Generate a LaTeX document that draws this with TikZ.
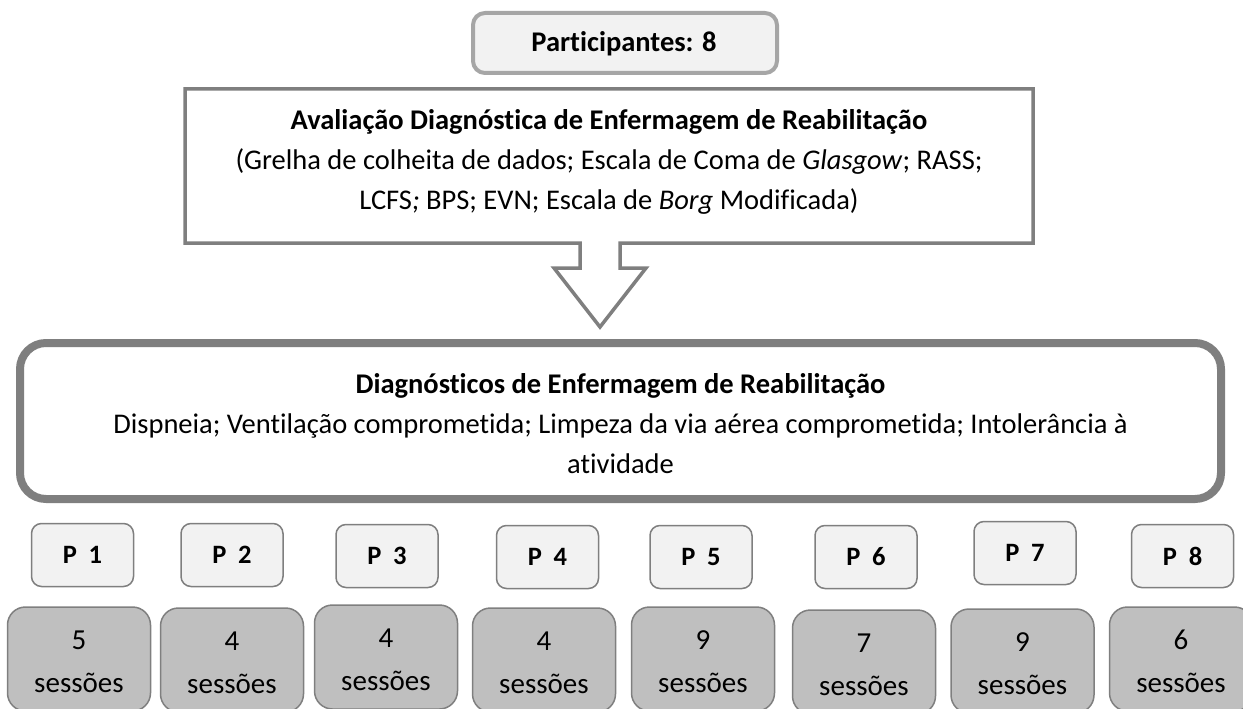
\documentclass[tikz,border=0pt]{standalone}
\usepackage{fontspec}
\setmainfont{Carlito}[Ligatures=NoCommon]
\newfontfamily\pfont[LetterSpace=22,Ligatures=NoCommon]{Carlito}
\definecolor{edgegray}{HTML}{7F7F7F}
\definecolor{partedge}{HTML}{A6A6A6}
\definecolor{lightfill}{HTML}{F2F2F2}
\definecolor{sessfill}{HTML}{BFBFBF}
\begin{document}
\begin{tikzpicture}[x=1pt,y=-1pt,
  txt/.style={font=\fontsize{28.5}{40}\selectfont, align=center, inner sep=0pt},
  partbox/.style={draw=partedge, fill=lightfill, line width=4pt, rounded corners=12pt,
    minimum width=304pt, minimum height=60pt, inner sep=0pt},
  diagbox/.style={draw=edgegray, fill=white, line width=8pt, rounded corners=26pt,
    minimum width=1201pt, minimum height=156pt, inner sep=0pt},
  calloutline/.style={draw=edgegray, fill=white, line width=3.5pt, line join=miter},
  pbox/.style={draw=edgegray, fill=lightfill, line width=1.5pt, rounded corners=10pt,
    minimum width=102pt, minimum height=63pt, inner sep=0pt,
    font=\pfont\bfseries\fontsize{26.5}{30}\selectfont},
  sbox/.style={draw=edgegray, fill=sessfill, line width=1.5pt, rounded corners=18pt,
    minimum width=143pt, minimum height=104pt, inner sep=0pt},
  stxt/.style={font=\fontsize{29}{40}\selectfont, inner sep=0pt, anchor=base}
]
\useasboundingbox (0,0) rectangle (1243,709);

% top box
\node[partbox] (part) at (625,43) {};
\node[font=\fontsize{28.5}{34}\selectfont\bfseries, inner sep=0pt] (parttxt) at (624,44) {Participantes: 8};

% callout with down arrow
\coordinate (c1) at (185,89);
\coordinate (c2) at (1033,89);
\coordinate (c3) at (1033,243);
\coordinate (c4) at (620,243);
\coordinate (c5) at (620,268);
\coordinate (c6) at (646,268);
\coordinate (tip) at (600,327);
\coordinate (c8) at (554,268);
\coordinate (c9) at (580,268);
\coordinate (c10) at (580,243);
\coordinate (c11) at (185,243);
\draw[calloutline] (c1) -- (c2) -- (c3) -- (c4) -- (c5) -- (c6) -- (tip) -- (c8) -- (c9) -- (c10) -- (c11) -- cycle;
\node[txt] (aval) at (609,162) {\textbf{Avaliação Diagnóstica de Enfermagem de Reabilitação}\\
(Grelha de colheita de dados; Escala de Coma de \textit{Glasgow}; RASS;\\
LCFS\textit{;} BPS; EVN; Escala de \textit{Borg} Modificada)};

% diagnoses box
\node[diagbox] (diag) at (620.5,421) {};
\node[txt] (diagtxt) at (620.5,424) {\textbf{Diagnósticos de Enfermagem de Reabilitação}\\
Dispneia; Ventilação comprometida; Limpeza da via aérea comprometida; Intolerância à\\
atividade};

% participant boxes
\node[pbox] (p1) at (82.5,555) {P 1};
\node[pbox] (p2) at (232,555) {P 2};
\node[pbox] (p3) at (387,556) {P 3};
\node[pbox] (p4) at (547.5,557) {P 4};
\node[pbox] (p5) at (701,557) {P 5};
\node[pbox] (p6) at (866,557) {P 6};
\node[pbox] (p7) at (1025,553) {P 7};
\node[pbox] (p8) at (1182.5,556) {P 8};

% session boxes
\node[sbox] (s1) at (79,659) {};
\node[sbox] (s2) at (232,660) {};
\node[sbox] (s3) at (386,657) {};
\node[sbox] (s4) at (544,660) {};
\node[sbox] (s5) at (703,659) {};
\node[sbox] (s6) at (864,662) {};
\node[sbox] (s7) at (1022.5,661) {};
\node[sbox] (s8) at (1181,659) {};
\foreach \s/\n in {s1/5,s2/4,s3/4,s4/4,s5/9,s6/7,s7/9,s8/6}{
  \node[stxt] (\s num) at ([yshift=-43pt]\s.north) {\n};
  \node[stxt] (\s lab) at ([yshift=-86pt]\s.north) {sessões};
}
\end{tikzpicture}
\end{document}
